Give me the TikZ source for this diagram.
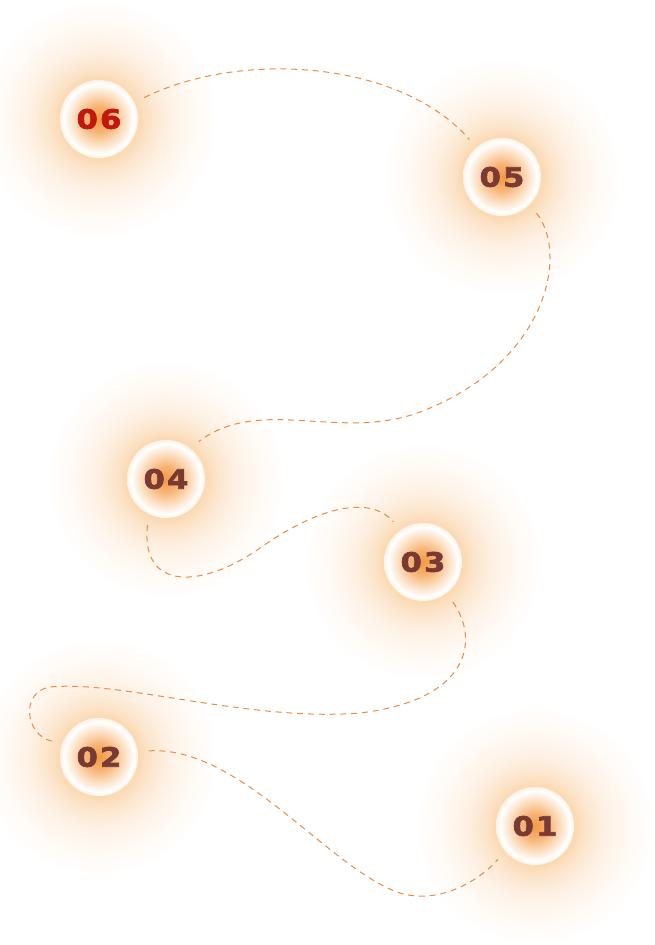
\documentclass[tikz,border=0pt]{standalone}
\usepackage{fontspec}
\usepackage{xcolor}
\usepackage{tikz}
\usetikzlibrary{backgrounds}
\newfontfamily\stepfont{DejaVu Sans}[FakeStretch=1.15,LetterSpace=8,FakeBold=2.5]
\definecolor{trailorange}{HTML}{EE8A3C}
\definecolor{numbrown}{HTML}{7A3A34}
\definecolor{numred}{HTML}{C2170E}
\definecolor{glowin}{HTML}{FBD8B0}
\definecolor{glowmid}{HTML}{FCE6CE}
\definecolor{glowout}{HTML}{FEF2E6}
\definecolor{glowfar}{HTML}{FFFAF5}
\definecolor{discin}{HTML}{F39A44}
\definecolor{discmid}{HTML}{F7B273}
\definecolor{discpale}{HTML}{FBD3AC}
\definecolor{discrim}{HTML}{FDEDDD}
\definecolor{discedge}{HTML}{FEF2E6}
\pgfdeclareradialshading{glowshade}{\pgfpointorigin}{color(0bp)=(glowin); color(8bp)=(glowin); color(11bp)=(glowmid); color(15bp)=(glowout); color(20bp)=(glowfar); color(25bp)=(white); color(50bp)=(white)}
\pgfdeclareradialshading{discshade}{\pgfpointorigin}{color(0bp)=(discin); color(8bp)=(discmid); color(14bp)=(discpale); color(19bp)=(discrim); color(22.5bp)=(white); color(25bp)=(discedge); color(50bp)=(discedge)}

\begin{document}
\begin{tikzpicture}[x=0.75pt,y=-0.75pt,
    stepdot/.style={circle,shading=discshade,minimum size=58.5pt,inner sep=0pt,
                    font=\stepfont\bfseries\fontsize{20}{20}\selectfont,text=numbrown},
    trail/.style={draw=trailorange,line width=0.75pt,dash pattern=on 4.5pt off 3.6pt,
                  shorten <=8pt,shorten >=8pt}]
  \useasboundingbox (0,0) rectangle (654,945);
  \node[stepdot,text=numred] (n06) at (99,119) {06};
  \node[stepdot] (n05) at (502,177) {05};
  \node[stepdot] (n04) at (166,479) {04};
  \node[stepdot] (n03) at (423,562) {03};
  \node[stepdot] (n02) at (99,757)  {02};
  \node[stepdot] (n01) at (535,826) {01};
  \begin{scope}[on background layer]
    \foreach \n in {n01,n02,n03,n04,n05,n06}
      \shade[shading=glowshade] (\n) circle (90pt);
  \end{scope}
  \draw[trail] (n06.25) .. controls (240,50) and (400,60) .. (n05.131);
  \draw[trail] (n05.-45) .. controls (570,255) and (545,365) .. (420,412)
    .. controls (340,442) and (260,395) .. (n04.52);
  \draw[trail] (n04.-116) .. controls (140,590) and (200,590) .. (260,548)
    .. controls (320,506) and (370,495) .. (n03.125);
  \draw[trail] (n03.-53) .. controls (480,640) and (470,700) .. (360,713)
    .. controls (250,722) and (120,680) .. (50,687)
    .. controls (20,692) and (25,735) .. (n02.160);
  \draw[trail] (n02.8) .. controls (240,745) and (330,870) .. (400,893)
    .. controls (440,905) and (480,880) .. (n01.-140);
\end{tikzpicture}
\end{document}
